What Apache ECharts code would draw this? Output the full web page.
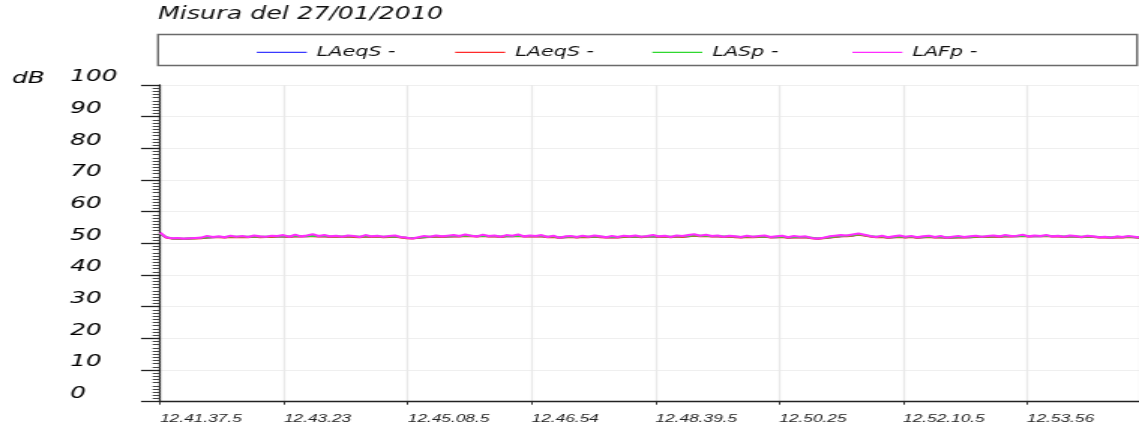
<!DOCTYPE html>
<html><head><meta charset="utf-8">
<script src="https://cdn.jsdelivr.net/npm/echarts@6/dist/echarts.min.js"></script>
<style>
html,body{margin:0;padding:0;background:#fff;overflow:hidden}
#wrap{width:1139px;height:427px;overflow:hidden;position:relative}
#c{width:759px;height:427px;transform:scaleX(1.50066);transform-origin:0 0}
</style></head><body><div id="wrap"><div id="c"></div></div>
<script>
// ---- data ----
const titleText = 'Misura del 27/01/2010';
const yUnit = 'dB';
const seriesNames = ['LAeqS -', 'LAeqS - ', 'LASp -', 'LAFp -'];
const seriesColors = ['#3a3aff', '#ff2a2a', '#2fd82f', '#ff2cff'];
const xTickLabels = ['12.41.37.5','12.43.23','12.45.08.5','12.46.54','12.48.39.5','12.50.25','12.52.10.5','12.53.56'];
const tickSeconds = 105.5;     // spacing of the time labels, seconds
const sampleStep = 5;          // seconds between samples
const durationSec = 834;

const laeqSBlue = [
53.1,51.9,51.5,51.5,51.4,51.5,51.6,51.6,51.8,51.9,
52.0,51.9,52.0,52.0,52.0,52.0,52.1,52.0,52.0,52.1,
52.1,52.2,52.1,52.2,52.2,52.2,52.3,52.2,52.2,52.1,
52.1,52.1,52.1,52.1,52.0,52.1,52.1,52.1,52.0,52.0,
52.1,51.9,51.7,51.6,51.7,51.9,52.0,52.1,52.1,52.1,
52.2,52.2,52.3,52.3,52.2,52.3,52.2,52.2,52.1,52.2,
52.2,52.3,52.2,52.2,52.2,52.2,52.0,52.0,51.8,51.9,
52.0,51.9,52.0,52.0,52.1,52.0,51.9,51.9,51.9,52.0,
52.0,52.1,52.0,52.1,52.2,52.1,52.1,52.0,52.1,52.1,
52.2,52.4,52.3,52.3,52.2,52.2,52.1,52.1,52.0,51.9,
52.0,52.0,52.0,52.1,51.9,51.9,52.0,51.8,51.9,51.9,
51.9,51.7,51.5,51.6,51.8,52.0,52.2,52.3,52.4,52.7,
52.5,52.2,52.0,52.0,51.8,51.9,52.0,51.9,52.0,51.8,
51.9,52.0,51.9,51.9,51.8,51.8,51.9,51.9,51.9,52.0,
52.0,52.0,52.1,52.1,52.2,52.2,52.2,52.3,52.2,52.2,
52.2,52.3,52.2,52.2,52.1,52.2,52.1,52.0,52.1,52.0,
51.9,51.9,51.8,51.9,51.9,52.0,51.9,51.8];

const laeqSRed = [
53.2,51.8,51.5,51.4,51.4,51.5,51.5,51.6,51.8,51.9,
51.9,51.8,52.0,51.9,52.0,51.9,52.1,51.9,52.0,52.0,
52.1,52.1,52.0,52.2,52.1,52.2,52.2,52.1,52.2,52.0,
52.1,52.0,52.1,52.0,51.9,52.1,52.0,52.1,51.9,52.0,
52.1,51.8,51.6,51.5,51.7,51.9,52.0,52.1,52.0,52.1,
52.2,52.1,52.3,52.2,52.1,52.3,52.1,52.2,52.0,52.2,
52.2,52.3,52.1,52.2,52.1,52.2,51.9,52.0,51.7,51.9,
52.0,51.8,52.0,51.9,52.1,51.9,51.8,51.9,51.8,52.0,
52.0,52.1,51.9,52.1,52.2,52.0,52.1,51.9,52.1,52.0,
52.2,52.4,52.2,52.3,52.1,52.2,52.0,52.1,51.9,51.8,
52.0,51.9,52.0,52.1,51.8,51.9,52.0,51.7,51.9,51.8,
51.9,51.6,51.4,51.6,51.8,52.0,52.2,52.2,52.4,52.7,
52.4,52.1,51.9,52.0,51.7,51.9,52.0,51.8,52.0,51.7,
51.9,52.0,51.8,51.9,51.7,51.8,51.9,51.8,51.9,52.0,
52.0,52.0,52.1,52.0,52.2,52.1,52.2,52.3,52.1,52.2,
52.2,52.3,52.1,52.2,52.0,52.2,52.1,51.9,52.1,52.0,
51.8,51.9,51.7,51.9,51.8,52.0,51.9,51.7];

const laspGreen = [
53.0,52.0,51.6,51.5,51.5,51.6,51.6,51.7,51.9,52.0,
52.0,52.0,52.1,52.1,52.1,52.1,52.2,52.1,52.1,52.2,
52.2,52.3,52.2,52.3,52.3,52.3,52.4,52.3,52.3,52.2,
52.2,52.2,52.2,52.2,52.1,52.2,52.2,52.2,52.1,52.1,
52.2,52.0,51.8,51.7,51.8,52.0,52.1,52.2,52.2,52.2,
52.3,52.3,52.4,52.4,52.3,52.4,52.3,52.3,52.2,52.3,
52.3,52.4,52.3,52.3,52.3,52.3,52.1,52.1,51.9,52.0,
52.1,52.0,52.1,52.1,52.2,52.1,52.0,52.0,52.0,52.1,
52.1,52.2,52.1,52.2,52.3,52.2,52.2,52.1,52.2,52.2,
52.3,52.5,52.4,52.4,52.3,52.3,52.2,52.2,52.1,52.0,
52.1,52.1,52.1,52.2,52.0,52.0,52.1,51.9,52.0,52.0,
52.0,51.8,51.6,51.7,51.9,52.1,52.3,52.4,52.5,52.8,
52.6,52.3,52.1,52.1,51.9,52.0,52.1,52.0,52.1,51.9,
52.0,52.1,52.0,52.0,51.9,51.9,52.0,52.0,52.0,52.1,
52.1,52.1,52.2,52.2,52.3,52.3,52.3,52.4,52.3,52.3,
52.3,52.4,52.3,52.3,52.2,52.3,52.2,52.1,52.2,52.1,
52.0,52.0,51.9,52.0,52.0,52.1,52.0,51.9];

const lafpMagenta = [
53.4,51.9,51.6,51.7,51.5,51.6,51.7,51.8,52.3,52.0,
52.2,51.9,52.4,52.1,52.3,52.0,52.5,52.2,52.1,52.4,
52.3,52.6,52.1,52.7,52.2,52.5,52.9,52.3,52.6,52.2,
52.4,52.1,52.5,52.3,52.0,52.6,52.2,52.4,52.1,52.3,
52.5,52.0,51.8,51.5,51.9,52.3,52.1,52.5,52.2,52.4,
52.6,52.3,52.8,52.4,52.2,52.7,52.3,52.5,52.1,52.6,
52.4,52.8,52.2,52.5,52.3,52.6,52.0,52.4,51.8,52.2,
52.3,52.0,52.4,52.1,52.5,52.2,51.9,52.3,52.0,52.4,
52.2,52.5,52.1,52.3,52.6,52.2,52.4,52.0,52.5,52.3,
52.6,52.9,52.4,52.7,52.3,52.5,52.1,52.4,52.2,52.0,
52.4,52.1,52.3,52.5,52.0,52.2,52.4,51.9,52.3,52.1,
52.2,51.7,51.5,51.8,52.2,52.4,52.6,52.5,52.8,53.1,
52.7,52.3,52.0,52.4,51.9,52.2,52.5,52.1,52.3,51.9,
52.2,52.4,52.0,52.3,51.8,52.1,52.3,52.0,52.2,52.4,
52.1,52.3,52.5,52.2,52.6,52.3,52.4,52.7,52.2,52.5,
52.3,52.6,52.2,52.4,52.1,52.5,52.3,52.0,52.4,52.2,
51.9,52.1,51.8,52.2,52.0,52.3,52.1,51.9];

const seriesValues = [laeqSBlue, laeqSRed, laspGreen, lafpMagenta];

// ---- chart ----
const FONT = '"Liberation Sans", Arial, sans-serif';
const WFONT = '"DejaVu Sans", Verdana, sans-serif';
const chart = echarts.init(document.getElementById('c'), null, {renderer: 'canvas'});
const W = 759;
const legendLefts = [171.1, 303.3, 434.7, 568];
const lineWidths = [1.6, 1.8, 1.8, 2.1];

const option = {
  animation: false,
  backgroundColor: '#fff',
  title: [
    {text: titleText, left: 105.3, top: 4, padding: 0,
     textStyle: {fontFamily: WFONT, fontStyle: 'italic', fontWeight: 'normal', fontSize: 16.9, lineHeight: 22, color: '#111'}},
    {text: yUnit, left: 8, top: 67.5, padding: 0,
     textStyle: {fontFamily: WFONT, fontStyle: 'italic', fontWeight: 'normal', fontSize: 16.5, lineHeight: 22, color: '#000'}}
  ],
  graphic: [{
    type: 'rect', z: -1, silent: true,
    shape: {x: 105.3, y: 34.5, width: W - 105.3 - 1.3, height: 31},
    style: {fill: '#fff', stroke: '#6a6a6a', lineWidth: 1.4}
  }],
  legend: seriesNames.map((name, k) => ({
    left: legendLefts[k], top: 44.3, padding: 0,
    icon: 'rect', itemWidth: 33.3, itemHeight: 1.3, itemGap: 0,
    data: [name],
    textStyle: {fontFamily: WFONT, fontStyle: 'italic', fontSize: 13.8, lineHeight: 16, color: '#111',
                padding: [0, 0, 0, 1.7]}
  })),
  grid: {left: 106.7, right: 0, top: 85, bottom: 25.3, containLabel: false},
  xAxis: {
    type: 'value', min: 0, max: durationSec, interval: tickSeconds,
    axisLine: {show: true, lineStyle: {color: '#222', width: 1.3}},
    axisTick: {show: true, length: 3, lineStyle: {color: '#333', width: 1}},
    splitLine: {show: true, lineStyle: {color: '#e9e9e9', width: 1.3}},
    axisLabel: {
      align: 'left', margin: 11, showMaxLabel: false,
      fontFamily: FONT, fontStyle: 'italic', fontSize: 11.5, color: '#222',
      formatter: v => { const i = Math.round(v / tickSeconds); return (Math.abs(v - i * tickSeconds) < 0.01 && xTickLabels[i]) || ''; }
    }
  },
  yAxis: {
    type: 'value', min: 0, max: 100, interval: 10,
    axisLine: {show: true, lineStyle: {color: '#222', width: 1.3}},
    axisTick: {show: true, length: 12.7, lineStyle: {color: '#222', width: 1.3}},
    minorTick: {show: true, splitNumber: 10, length: 5, lineStyle: {color: '#444', width: 1}},
    splitLine: {show: true, lineStyle: {color: '#efefef', width: 1}},
    axisLabel: {
      align: 'left', verticalAlign: 'bottom', lineHeight: 16, margin: 60,
      fontFamily: WFONT, fontStyle: 'italic', fontSize: 16.5, color: '#000'
    }
  },
  series: seriesNames.map((name, k) => ({
    name, type: 'line', symbol: 'none', z: 2 + k,
    color: seriesColors[k],
    lineStyle: {width: lineWidths[k], color: seriesColors[k]},
    data: seriesValues[k].map((v, i) => [i * sampleStep, v])
  }))
};
chart.setOption(option);
</script></body></html>
